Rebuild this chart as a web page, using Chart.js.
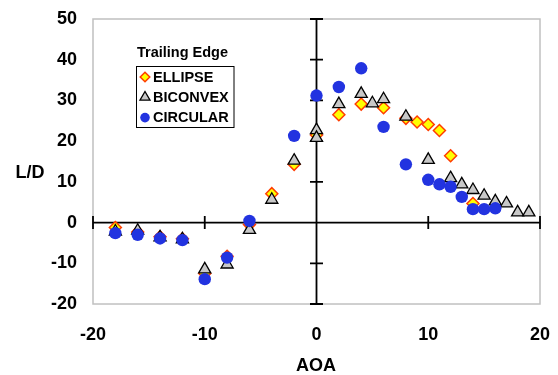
<!DOCTYPE html>
<html>
<head>
<meta charset="utf-8">
<script src="https://cdn.jsdelivr.net/npm/chart.js@4/dist/chart.umd.min.js"></script>
<style>
  html, body { margin: 0; padding: 0; background: #fff; }
  canvas { display: block; }
</style>
</head>
<body>
<canvas id="ldChart" width="558" height="375"></canvas>
<script>
// data (AOA in degrees, L/D)
const ellipseAoa = [-18, -16, -14, -12, -10, -8, -6, -4, -2, 0, 2, 4, 6, 8, 9, 10, 11, 12, 14];
const ellipseLD = [-1.2, -2.3, -3.5, -4, -12.5, -8.3, -0.5, 7.1, 14.3, 21.5, 26.5, 29.1, 28.2, 25.6, 24.7, 24.1, 22.6, 16.4, 4.7];

const biconvexAoa = [-18, -16, -14, -12, -10, -8, -6, -4, -2, 0, 0, 2, 4, 5, 6, 8, 10, 12, 13, 14, 15, 16, 17, 18, 19];
const biconvexLD = [-2.2, -2, -3.6, -4.1, -11.5, -10.3, -1.8, 5.6, 15.2, 22.7, 20.8, 29.1, 31.6, 29.3, 30.3, 26, 15.4, 10.9, 9.4, 8, 6.6, 5.2, 4.7, 2.5, 2.5];

const circularAoa = [-18, -16, -14, -12, -10, -8, -6, -2, 0, 2, 4, 6, 8, 10, 11, 12, 13, 14, 15, 16];
const circularLD = [-2.6, -3, -3.9, -4.3, -13.9, -8.6, 0.4, 21.3, 31.2, 33.3, 37.9, 23.5, 14.3, 10.5, 9.4, 8.8, 6.3, 3.3, 3.3, 3.5];

const xTicks = [-20, -10, 0, 10, 20];
const yTicks = [-20, -10, 0, 10, 20, 30, 40, 50];

const toPoints = (xs, ys) => xs.map((x, i) => ({ x: x, y: ys[i] }));

const FONT = '"Liberation Sans", Arial, sans-serif';

// box, zero axes with tick marks, axis titles
const framePlugin = {
  id: 'frame',
  beforeDatasetsDraw(chart) {
    const { ctx, chartArea: a, scales } = chart;
    const x0 = scales.x.getPixelForValue(0);
    const y0 = scales.y.getPixelForValue(0);
    ctx.save();
    ctx.strokeStyle = '#c0c0c0';
    ctx.lineWidth = 1.5;
    ctx.strokeRect(a.left, a.top, a.right - a.left, a.bottom - a.top);

    ctx.strokeStyle = '#000';
    ctx.lineWidth = 1.8;
    ctx.beginPath();
    ctx.moveTo(x0, a.top);
    ctx.lineTo(x0, a.bottom);
    ctx.moveTo(a.left, y0);
    ctx.lineTo(a.right, y0);
    yTicks.forEach(v => {
      const p = scales.y.getPixelForValue(v);
      ctx.moveTo(x0 - 6.5, p);
      ctx.lineTo(x0 + 6.5, p);
    });
    xTicks.forEach(v => {
      const p = scales.x.getPixelForValue(v);
      ctx.moveTo(p, y0 - 6.5);
      ctx.lineTo(p, y0 + 6.5);
    });
    ctx.stroke();
    ctx.restore();
  },
  afterDraw(chart) {
    const ctx = chart.ctx;
    ctx.save();
    ctx.fillStyle = '#000';
    ctx.font = 'bold 18px ' + FONT;
    ctx.textAlign = 'center';
    ctx.textBaseline = 'middle';
    ctx.fillText('L/D', 30, 173);
    ctx.fillText('AOA', 316, 366);
    ctx.restore();
  }
};

// legend with title above a boxed list
const legendPlugin = {
  id: 'boxLegend',
  afterDraw(chart) {
    const ctx = chart.ctx;
    ctx.save();
    ctx.fillStyle = '#000';
    ctx.font = 'bold 14.5px ' + FONT;
    ctx.textBaseline = 'middle';
    ctx.textAlign = 'left';
    ctx.fillText('Trailing Edge', 137, 53);

    ctx.strokeStyle = '#000';
    ctx.lineWidth = 1;
    ctx.strokeRect(136.5, 66.5, 97.5, 61);

    const sizes = [4.8, 5.8, 4.8];
    chart.data.datasets.forEach((ds, i) => {
      const y = 77 + i * 20.3;
      ctx.fillStyle = ds.backgroundColor;
      ctx.strokeStyle = ds.borderColor;
      ctx.lineWidth = ds.borderWidth || 0.01;
      Chart.helpers.drawPoint(ctx, { pointStyle: ds.pointStyle, radius: sizes[i], borderWidth: ds.borderWidth }, 145, y);
      ctx.fillStyle = '#000';
      ctx.fillText(ds.label, 153, y + 0.5);
    });
    ctx.restore();
  }
};

new Chart(document.getElementById('ldChart'), {
  type: 'scatter',
  data: {
    datasets: [
      {
        label: 'ELLIPSE',
        data: toPoints(ellipseAoa, ellipseLD),
        pointStyle: 'rectRot',
        pointRadius: 6,
        backgroundColor: '#ffff00',
        borderColor: '#ff3c00',
        borderWidth: 1.5,
        order: 3
      },
      {
        label: 'BICONVEX',
        data: toPoints(biconvexAoa, biconvexLD),
        pointStyle: 'triangle',
        pointRadius: 7,
        backgroundColor: '#c8c8c8',
        borderColor: '#000',
        borderWidth: 1.3,
        order: 2
      },
      {
        label: 'CIRCULAR',
        data: toPoints(circularAoa, circularLD),
        pointStyle: 'circle',
        pointRadius: 6.2,
        backgroundColor: '#2233e0',
        borderColor: '#2233e0',
        borderWidth: 0,
        order: 1
      }
    ]
  },
  options: {
    responsive: false,
    animation: false,
    layout: { padding: { left: 0, right: 18, top: 19, bottom: 0 } },
    plugins: {
      legend: { display: false },
      tooltip: { enabled: false }
    },
    scales: {
      x: {
        type: 'linear',
        min: -20,
        max: 20,
        afterFit: s => { s.height = 71; s.paddingLeft = 0; s.paddingRight = 0; },
        afterBuildTicks: s => { s.ticks = xTicks.map(v => ({ value: v })); },
        grid: { display: false, drawTicks: false },
        border: { display: false },
        ticks: { color: '#000', padding: 20, font: { family: FONT, size: 18, weight: 'bold' } }
      },
      y: {
        type: 'linear',
        min: -20,
        max: 50,
        afterFit: s => { s.width = 93; s.paddingTop = 0; s.paddingBottom = 0; },
        afterBuildTicks: s => { s.ticks = yTicks.map(v => ({ value: v })); },
        grid: { display: false, drawTicks: false },
        border: { display: false },
        ticks: { color: '#000', padding: 16, font: { family: FONT, size: 18, weight: 'bold' } }
      }
    }
  },
  plugins: [framePlugin, legendPlugin]
});
</script>
</body>
</html>
